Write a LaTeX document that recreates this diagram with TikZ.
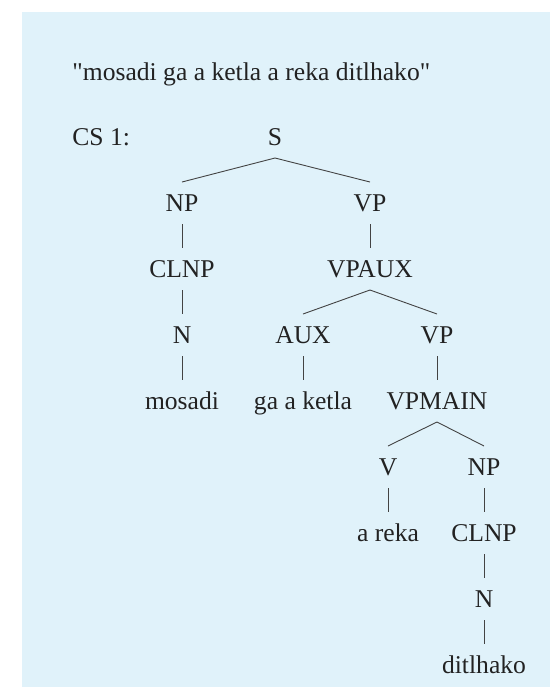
\documentclass[tikz,border=0pt]{standalone}
\usepackage{fontspec}
\setmainfont{Liberation Serif}[Ligatures=TeXOff]
\definecolor{boxblue}{RGB}{224,242,250}
\definecolor{inkgray}{RGB}{34,34,34}

\begin{document}
\begin{tikzpicture}[x=0.5pt,y=-0.5pt,
  lbl/.style={inner sep=0pt, outer ysep=6.25pt, text height=8.5pt, text depth=0pt, text=inkgray, font=\fontsize{12.8}{15}\selectfont},
  br/.style={draw=inkgray!85, line width=0.45pt}]
\useasboundingbox (0,0) rectangle (550,687);
\fill[boxblue] (22,12) rectangle (550,687);

\node[lbl, anchor=base west, text height=, outer ysep=0pt] (title) at (72,80) {"mosadi ga a ketla a reka ditlhako"};
\node[lbl, anchor=west] (cs) at (72,137) {CS 1:};

\node[lbl] (s) at (275,137) {S};
\node[lbl] (np) at (182,203) {NP};
\node[lbl] (vp) at (370,203) {VP};
\node[lbl] (clnp) at (182,269) {CLNP};
\node[lbl] (vpaux) at (370,269) {VPAUX};
\node[lbl] (n) at (182,335) {N};
\node[lbl] (aux) at (303,335) {AUX};
\node[lbl] (vpb) at (437,335) {VP};
\node[lbl] (mosadi) at (182,401) {mosadi};
\node[lbl] (gaaketla) at (303,401) {ga a ketla};
\node[lbl] (vpmain) at (437,401) {VPMAIN};
\node[lbl] (v) at (388,467) {V};
\node[lbl] (npb) at (484,467) {NP};
\node[lbl] (areka) at (388,533) {a reka};
\node[lbl] (clnpb) at (484,533) {CLNP};
\node[lbl] (nb) at (484,599) {N};
\node[lbl] (ditlhako) at (484,665) {ditlhako};

\draw[br] (s.south) -- (np.north);
\draw[br] (s.south) -- (vp.north);
\draw[br] (np.south) -- (clnp.north);
\draw[br] (clnp.south) -- (n.north);
\draw[br] (n.south) -- (mosadi.north);
\draw[br] (vp.south) -- (vpaux.north);
\draw[br] (vpaux.south) -- (aux.north);
\draw[br] (vpaux.south) -- (vpb.north);
\draw[br] (aux.south) -- (gaaketla.north);
\draw[br] (vpb.south) -- (vpmain.north);
\draw[br] (vpmain.south) -- (v.north);
\draw[br] (vpmain.south) -- (npb.north);
\draw[br] (v.south) -- (areka.north);
\draw[br] (npb.south) -- (clnpb.north);
\draw[br] (clnpb.south) -- (nb.north);
\draw[br] (nb.south) -- (ditlhako.north);

\end{tikzpicture}
\end{document}
